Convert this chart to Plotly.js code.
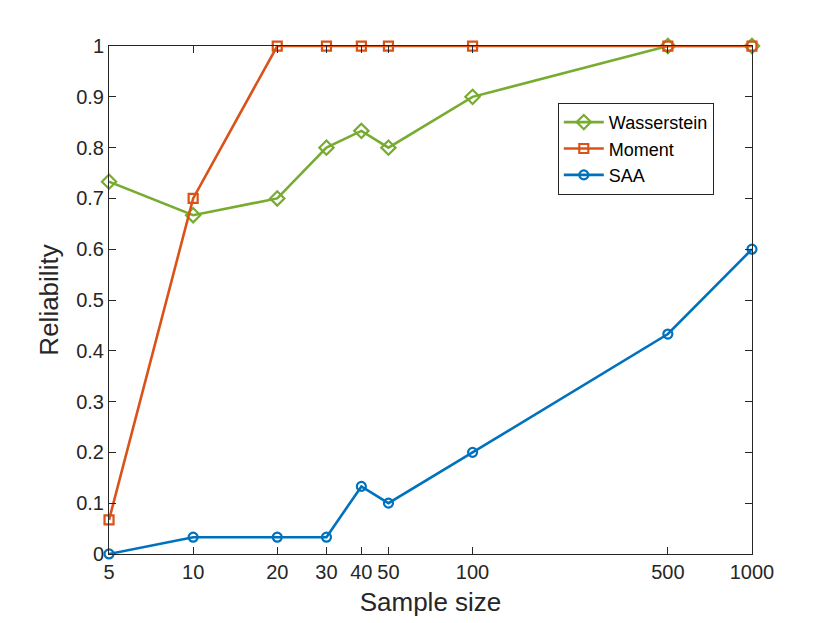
<!DOCTYPE html>
<html><head><meta charset="utf-8">
<script src="https://cdn.plot.ly/plotly-3.0.1.min.js"></script>
<style>body{margin:0;background:#fff}#chart{width:830px;height:623px}</style>
</head><body><div id="chart"></div>
<script>
const sampleSizes = [5, 10, 20, 30, 40, 50, 100, 500, 1000];
const wasserstein = [0.733, 0.667, 0.7, 0.8, 0.833, 0.8, 0.9, 1, 1];
const moment = [0.067, 0.7, 1, 1, 1, 1, 1, 1, 1];
const saa = [0, 0.033, 0.033, 0.033, 0.133, 0.1, 0.2, 0.433, 0.6];
const xTicks = [5, 10, 20, 30, 40, 50, 100, 500, 1000];
const yTicks = [0, 0.1, 0.2, 0.3, 0.4, 0.5, 0.6, 0.7, 0.8, 0.9, 1];

function tr(name, y, color, symbol, size) {
  return {x: sampleSizes, y: y, name: name, type: 'scatter', mode: 'lines+markers',
    line: {color: color, width: 2.6},
    marker: {symbol: symbol, size: size, color: color, line: {color: color, width: 2.2}},
    cliponaxis: false};
}
const data = [
  tr('Wasserstein', wasserstein, '#77AC30', 'diamond-open', 11),
  tr('Moment', moment, '#D95319', 'square-open', 9),
  tr('SAA', saa, '#0072BD', 'circle-open', 9)
];
const FF = 'Liberation Sans, Arial, sans-serif';
const axFont = {family: FF, size: 20, color: '#262626'};
const eps = 1e-4;
const layout = {
  width: 830, height: 623,
  margin: {l: 109, r: 78, t: 46, b: 69},
  paper_bgcolor: '#fff', plot_bgcolor: '#fff',
  showlegend: true,
  legend: {x: 0.698, y: 0.888, xanchor: 'left', yanchor: 'top',
    bordercolor: '#262626', borderwidth: 1, bgcolor: '#fff',
    font: {family: FF, size: 18, color: '#000'},
    itemwidth: 40, tracegroupgap: 0},
  xaxis: {type: 'log', range: [Math.log10(5) - eps, Math.log10(1000) + eps],
    tickvals: xTicks, ticktext: xTicks.map(String),
    ticks: 'inside', ticklen: 7, tickcolor: '#262626', tickwidth: 1,
    showline: true, linecolor: '#262626', linewidth: 1, mirror: 'ticks',
    showgrid: false, zeroline: false, tickfont: axFont,
    title: {text: 'Sample size', font: {family: FF, size: 26, color: '#262626'}, standoff: 10}},
  yaxis: {range: [0 - 0.0001, 1 + 0.0001], tickvals: yTicks, ticktext: yTicks.map(String),
    ticks: 'inside', ticklen: 7, tickcolor: '#262626', tickwidth: 1,
    showline: true, linecolor: '#262626', linewidth: 1, mirror: 'ticks',
    showgrid: false, zeroline: false, tickfont: axFont,
    title: {text: 'Reliability', font: {family: FF, size: 26, color: '#262626'}, standoff: 10}}
};
Plotly.newPlot('chart', data, layout, {displayModeBar: false, staticPlot: true});
</script></body></html>
